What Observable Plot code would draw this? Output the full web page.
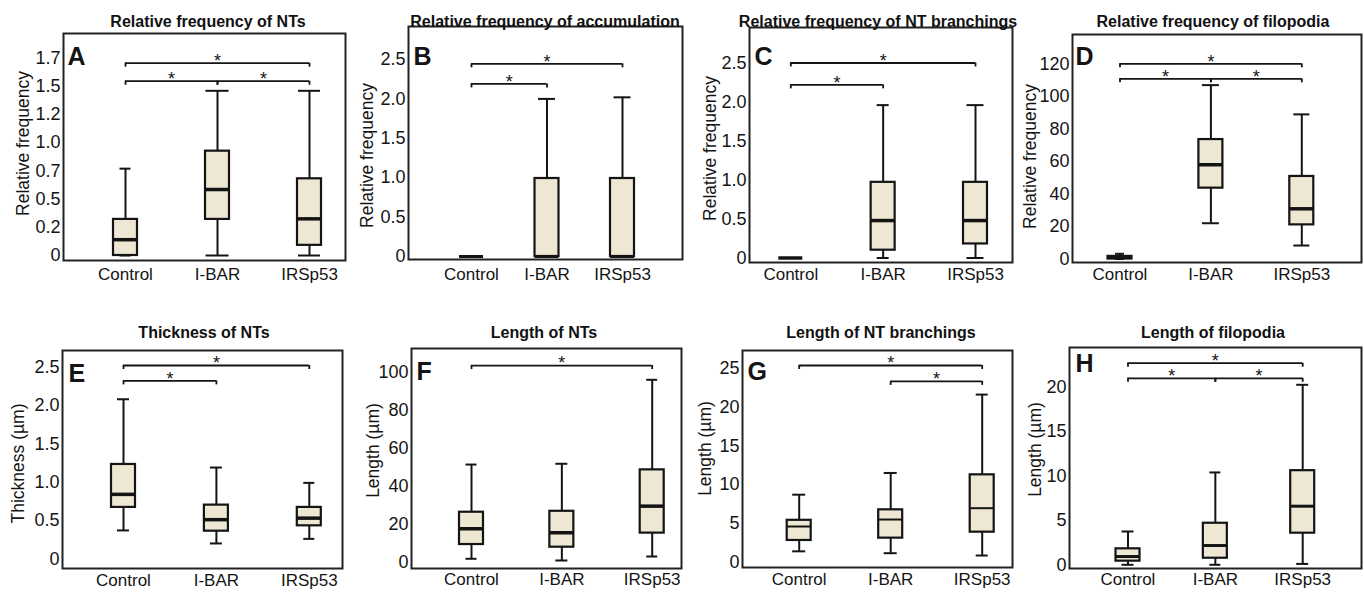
<!DOCTYPE html>
<html>
<head>
<meta charset="utf-8">
<script src="https://cdn.jsdelivr.net/npm/d3@7"></script>
<script src="https://cdn.jsdelivr.net/npm/@observablehq/plot@0.6"></script>
<style>
html, body { margin: 0; padding: 0; background: #fff; }
#root { position: relative; width: 1364px; height: 592px; overflow: hidden; background: #fff;
  font-family: "Liberation Sans", Arial, sans-serif; }
.title { position: absolute; font-weight: bold; font-size: 16px; line-height: 20px; white-space: nowrap;
  transform: translateX(-50%); color: #111; }
</style>
</head>
<body>
<div id="root"></div>
<script>
const FONT = `"Liberation Sans", Arial, sans-serif`;

// ---------- data ----------
const groups = ["Control", "I-BAR", "IRSp53"];
const letters = ["A", "B", "C", "D", "E", "F", "G", "H"];
const titles = [
  "Relative frequency of NTs", "Relative frequency of accumulation",
  "Relative frequency of NT branchings", "Relative frequency of filopodia",
  "Thickness of NTs", "Length of NTs", "Length of NT branchings", "Length of filopodia"
];
const yTitles = [
  "Relative frequency", "Relative frequency", "Relative frequency", "Relative frequency",
  "Thickness (µm)", "Length (µm)", "Length (µm)", "Length (µm)"
];

// box statistics per group: [min, q1, median, q3, max]
const boxA = [[0, 0, 0.14, 0.32, 0.77], [0, 0.32, 0.585, 0.925, 1.46], [0, 0.09, 0.325, 0.68, 1.46]];
const boxB = [[0, 0, 0, 0, 0], [0, 0, 0, 0.99, 2.0], [0, 0, 0, 0.99, 2.02]];
const boxC = [[0, 0, 0, 0, 0], [0, 0.1, 0.48, 0.97, 1.96], [0, 0.18, 0.48, 0.97, 1.96]];
const boxD = [[0, 0, 1, 1.6, 3.2], [22, 43.6, 58, 73.5, 107], [8.3, 21, 30.9, 50.8, 89]];
const boxE = [[0.37, 0.67, 0.84, 1.23, 2.08], [0.2, 0.36, 0.51, 0.70, 1.19], [0.26, 0.43, 0.53, 0.67, 0.99]];
const boxF = [[1.8, 9.3, 17.6, 26.3, 51.4], [0.9, 7.9, 15.5, 26.8, 51.8], [3, 15.3, 29.5, 48.6, 96]];
const boxG = [[1.4, 2.8, 4.6, 5.4, 8.7], [1.16, 3.1, 5.5, 6.75, 11.5], [0.86, 3.87, 6.96, 11.26, 21.6]];
const boxH = [[0, 0.41, 0.93, 1.8, 3.75], [0, 0.74, 2.17, 4.68, 10.4], [0.1, 3.56, 6.6, 10.6, 20.27]];

// y tick values and their printed labels
const ticksA = [0, 0.25, 0.5, 0.75, 1, 1.25, 1.5, 1.75];
const tickLabelsA = ["0", "0.2", "0.5", "0.7", "1.0", "1.2", "1.5", "1.7"];
const ticksHalf = [0, 0.5, 1, 1.5, 2, 2.5];
const tickLabelsHalf = ["0", "0.5", "1.0", "1.5", "2.0", "2.5"];
const ticksD = [0, 20, 40, 60, 80, 100, 120];
const ticksF = [0, 20, 40, 60, 80, 100];
const ticksG = [0, 5, 10, 15, 20, 25];
const ticksH = [0, 5, 10, 15, 20];

// significance brackets: [from group, to group, level]
const bracketsA = [["Control", "IRSp53", 1.705], ["Control", "I-BAR", 1.545], ["I-BAR", "IRSp53", 1.545]];
const bracketsB = [["Control", "IRSp53", 2.445], ["Control", "I-BAR", 2.19]];
const bracketsC = [["Control", "IRSp53", 2.50], ["Control", "I-BAR", 2.22]];
const bracketsD = [["Control", "IRSp53", 120.1], ["Control", "I-BAR", 110.9], ["I-BAR", "IRSp53", 110.9]];
const bracketsE = [["Control", "IRSp53", 2.52], ["Control", "I-BAR", 2.32]];
const bracketsF = [["Control", "IRSp53", 103.5]];
const bracketsG = [["Control", "IRSp53", 25.35], ["I-BAR", "IRSp53", 23.3]];
const bracketsH = [["Control", "IRSp53", 22.7], ["Control", "I-BAR", 21.0], ["I-BAR", "IRSp53", 21.0]];

const boxes = [boxA, boxB, boxC, boxD, boxE, boxF, boxG, boxH];
const tickSets = [ticksA, ticksHalf, ticksHalf, ticksD, ticksHalf, ticksF, ticksG, ticksH];
const tickLabelSets = [tickLabelsA, tickLabelsHalf, tickLabelsHalf, ticksD.map(String), tickLabelsHalf,
  ticksF.map(String), ticksG.map(String), ticksH.map(String)];
const bracketSets = [bracketsA, bracketsB, bracketsC, bracketsD, bracketsE, bracketsF, bracketsG, bracketsH];

// ---------- layout & style (pixels) ----------
const layout = [
  {frame: [63, 33, 345, 260], cx0: 125, step: 92, zeroY: 255, ppu: 112.8, titleX: 208, titleY: 22, letterDx: 4, letterTop: 47, yLabDx: -40, yLabY: 143, xPad: 7},
  {frame: [408, 26, 682, 259], cx0: 471, step: 75.5, zeroY: 256, ppu: 78.8, titleX: 545, titleY: 22, letterDx: 5, letterTop: 47, yLabDx: -41, yLabY: 155, xPad: 8},
  {frame: [749, 27, 1012, 262], cx0: 790.3, step: 92.35, zeroY: 257.5, ppu: 78, titleX: 878, titleY: 22, letterDx: 5, letterTop: 47, yLabDx: -39, yLabY: 148, xPad: 5},
  {frame: [1072, 34, 1361, 262], cx0: 1119.5, step: 90.9, zeroY: 258.5, ppu: 1.625, titleX: 1213, titleY: 22, letterDx: 3, letterTop: 47, yLabDx: -42, yLabY: 156, xPad: 5},
  {frame: [62, 350, 342, 568], cx0: 123, step: 92.9, zeroY: 558.3, ppu: 76.7, titleX: 204, titleY: 333, letterDx: 6, letterTop: 364, yLabDx: -44, yLabY: 463, xPad: 5},
  {frame: [411, 348, 681, 568], cx0: 471, step: 90.35, zeroY: 561.7, ppu: 1.9, titleX: 544, titleY: 333, letterDx: 5, letterTop: 362, yLabDx: -38, yLabY: 450, xPad: 4},
  {frame: [742, 350, 1012, 567], cx0: 798.7, step: 91.5, zeroY: 561.7, ppu: 7.76, titleX: 881, titleY: 333, letterDx: 5, letterTop: 362, yLabDx: -37, yLabY: 448, xPad: 5},
  {frame: [1069, 347, 1361, 568], cx0: 1127.5, step: 87.35, zeroY: 564.3, ppu: 8.88, titleX: 1213, titleY: 333, letterDx: 6, letterTop: 354, yLabDx: -34, yLabY: 449, xPad: 4}
];
const capWidths = [[11, 23, 22], [17, 17, 17], [12, 12, 17], [9, 17, 16], [12, 12, 11], [11, 12, 11], [13, 13, 12], [12, 11, 12]];
const medianWidths = [3.5, 3, 3.5, 3.5, 3.5, 3.5, 2, 3];
const BOX_W = 24;
const FILL = "#ede7d3";
const INK = "#141414";

const root = document.getElementById("root");

function makePanel(k) {
  const L = layout[k];
  const [fx0, fy0, fx1, fy1] = L.frame;
  const mL = 70, mR = 6, mT = 6, mB = 36;
  const xDomain = [-(L.cx0 - fx0) / L.step, (fx1 - L.cx0) / L.step];
  const yDomain = [-(fy1 - L.zeroY) / L.ppu, (L.zeroY - fy0) / L.ppu];
  const rows = boxes[k].map((s, i) => ({i, min: s[0], q1: s[1], med: s[2], q3: s[3], max: s[4]}));
  const br = bracketSets[k].map(([a, b, lv]) => {
    const ia = groups.indexOf(a), ib = groups.indexOf(b);
    return {a: ia, b: ib, mid: (ia + ib) / 2, lv};
  });
  const tv = tickSets[k], tl = tickLabelSets[k];
  const hw = BOX_W / 2;

  const marks = [];
  // whiskers
  marks.push(Plot.ruleX(rows, {x: "i", y1: "min", y2: "q1", stroke: INK, strokeWidth: 2}));
  marks.push(Plot.ruleX(rows, {x: "i", y1: "q3", y2: "max", stroke: INK, strokeWidth: 2}));
  // caps
  rows.forEach((r, j) => {
    const c = capWidths[k][j] / 2;
    marks.push(Plot.ruleY([r], {x1: "i", x2: "i", y: "min", insetLeft: -c, insetRight: -c, stroke: INK, strokeWidth: 2}));
    marks.push(Plot.ruleY([r], {x1: "i", x2: "i", y: "max", insetLeft: -c, insetRight: -c, stroke: INK, strokeWidth: 2}));
  });
  // boxes
  marks.push(Plot.rect(rows, {x1: "i", x2: "i", y1: "q1", y2: "q3", insetLeft: -hw, insetRight: -hw,
    fill: FILL, stroke: INK, strokeWidth: 2.2}));
  // medians
  marks.push(Plot.ruleY(rows, {x1: "i", x2: "i", y: "med", insetLeft: -hw, insetRight: -hw,
    stroke: INK, strokeWidth: medianWidths[k]}));
  // brackets
  marks.push(Plot.ruleY(br, {x1: "a", x2: "b", y: "lv", stroke: INK, strokeWidth: 1.8}));
  marks.push(Plot.ruleX(br, {x: "a", y1: "lv", y2: "lv", insetBottom: -4, stroke: INK, strokeWidth: 1.8}));
  marks.push(Plot.ruleX(br, {x: "b", y1: "lv", y2: "lv", insetBottom: -4, stroke: INK, strokeWidth: 1.8}));
  marks.push(Plot.text(br, {x: "mid", y: "lv", text: () => "*", fontSize: 18, dy: -2, fill: INK}));
  // frame
  marks.push(Plot.frame({stroke: "#222", strokeWidth: 2}));
  // axes
  marks.push(Plot.axisY({ticks: tv, tickFormat: (d) => tl[tv.indexOf(d)], tickSize: 0, tickPadding: 3,
    label: null, fontSize: 18, fill: INK}));
  marks.push(Plot.axisX({ticks: [0, 1, 2], tickFormat: (d) => groups[d], tickSize: 0, tickPadding: L.xPad,
    label: null, fontSize: 17, fill: INK}));
  // y title
  marks.push(Plot.text([yTitles[k]], {frameAnchor: "left", dx: L.yLabDx, dy: L.yLabY - (fy0 + fy1) / 2,
    rotate: -90, textAnchor: "middle", lineAnchor: "middle", fontSize: 17.5, fill: INK}));
  // panel letter
  marks.push(Plot.text([letters[k]], {frameAnchor: "top-left", dx: L.letterDx, dy: L.letterTop - fy0,
    lineAnchor: "top", textAnchor: "start", fontSize: 25, fontWeight: "bold", fill: INK}));

  const svg = Plot.plot({
    width: (fx1 - fx0) + mL + mR,
    height: (fy1 - fy0) + mT + mB,
    marginLeft: mL, marginRight: mR, marginTop: mT, marginBottom: mB,
    x: {type: "linear", domain: xDomain, axis: null},
    y: {type: "linear", domain: yDomain, axis: null},
    style: {position: "absolute", left: (fx0 - mL) + "px", top: (fy0 - mT) + "px",
      fontFamily: FONT, fontSize: "18px", color: INK, background: "transparent", overflow: "visible", maxWidth: "none"},
    marks
  });
  root.appendChild(svg);

  const t = document.createElement("div");
  t.className = "title";
  t.textContent = titles[k];
  t.style.left = L.titleX + "px";
  t.style.top = (L.titleY - 10) + "px";
  root.appendChild(t);
}

for (let k = 0; k < 8; k++) makePanel(k);
</script>
</body>
</html>
